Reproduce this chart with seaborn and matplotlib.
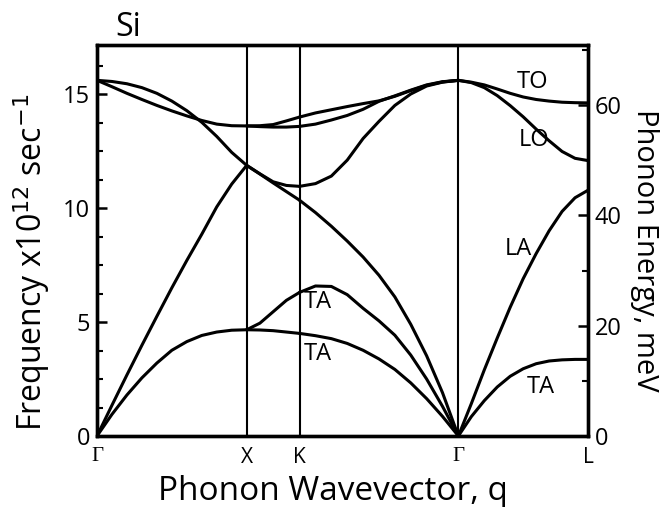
import numpy as np
import pandas as pd
import matplotlib
matplotlib.use("Agg")
import matplotlib.pyplot as plt
import seaborn as sns
from matplotlib.ticker import MultipleLocator, FixedLocator

# Path Γ–X–K–Γ–L, segment lengths in units of 2π/a
SEGMENT_LENGTHS = [1.0, np.sqrt(2) / 4, 3 * np.sqrt(2) / 4, np.sqrt(3) / 2]
POINT_LABELS = ["Γ", "X", "K", "Γ", "L"]
THZ_TO_MEV = 4.1357

# Γ → X  (t = fraction of the segment, frequencies in 10^12 s^-1)
gx_t = [0, .1, .2, .3, .4, .5, .6, .7, .8, .9, 1]
gx_ta = [0, 0.95, 1.8, 2.55, 3.2, 3.76, 4.14, 4.41, 4.56, 4.64, 4.66]
gx_la = [0, 1.35, 2.68, 3.98, 5.25, 6.5, 7.7, 8.85, 10.05, 11.05, 11.87]
gx_to = [15.6, 15.32, 15.03, 14.76, 14.5, 14.26, 14.04, 13.84, 13.68, 13.61, 13.6]
gx_lo = [15.6, 15.55, 15.45, 15.28, 15.03, 14.69, 14.27, 13.76, 13.14, 12.44, 11.87]

# X → K
xk_t = [0, .25, .5, .75, 1]
xk_ta1 = [4.66, 4.95, 5.45, 5.95, 6.3]
xk_ta2 = [4.66, 4.65, 4.62, 4.56, 4.5]
xk_la = [11.87, 11.49, 11.1, 10.72, 10.34]
xk_lo = [11.87, 11.5, 11.15, 10.99, 10.95]
xk_to1 = [13.6, 13.61, 13.66, 13.82, 13.99]
xk_to2 = [13.6, 13.57, 13.55, 13.55, 13.58]

# K → Γ
kg_t = [0, .1, .2, .3, .4, .5, .6, .7, .8, .9, 1]
kg_ta1 = [6.3, 6.58, 6.56, 6.2, 5.6, 5.05, 4.42, 3.55, 2.5, 1.3, 0]
kg_ta2 = [4.5, 4.4, 4.27, 4.06, 3.76, 3.38, 2.92, 2.33, 1.64, 0.86, 0]
kg_la = [10.34, 9.8, 9.2, 8.55, 7.85, 7.05, 6.1, 4.9, 3.52, 1.9, 0]
kg_lo = [10.95, 11.07, 11.4, 12.1, 13.05, 13.8, 14.5, 15.0, 15.35, 15.52, 15.6]
kg_to1 = [13.99, 14.17, 14.31, 14.45, 14.58, 14.7, 14.9, 15.15, 15.38, 15.53, 15.6]
kg_to2 = [13.58, 13.68, 13.86, 14.06, 14.33, 14.68, 14.92, 15.17, 15.4, 15.54, 15.6]

# Γ → L
gl_t = [0, .1, .2, .3, .4, .5, .6, .7, .8, .9, 1]
gl_ta = [0, 0.85, 1.55, 2.15, 2.62, 2.95, 3.17, 3.29, 3.34, 3.36, 3.36]
gl_la = [0, 1.42, 2.9, 4.3, 5.65, 6.9, 8.0, 9.0, 9.85, 10.45, 10.78]
gl_lo = [15.6, 15.5, 15.28, 14.93, 14.49, 14.0, 13.46, 12.95, 12.48, 12.18, 12.08]
gl_to = [15.6, 15.52, 15.4, 15.22, 15.03, 14.87, 14.76, 14.69, 14.64, 14.62, 14.61]

# Branch labels: (text, q, frequency)
label_text = ["TO", "LO", "LA", "TA", "TA", "TA"]
label_q = [2.913, 2.919, 2.813, 2.966, 1.475, 1.475]
label_f = [15.53, 12.98, 8.2, 2.15, 5.88, 3.6]

sym_q = np.concatenate([[0], np.cumsum(SEGMENT_LENGTHS)])

segments = [
    (0, gx_t, {"TA": gx_ta, "LA": gx_la, "TO": gx_to, "LO": gx_lo}),
    (1, xk_t, {"TA1": xk_ta1, "TA2": xk_ta2, "LA": xk_la, "LO": xk_lo,
               "TO1": xk_to1, "TO2": xk_to2}),
    (2, kg_t, {"TA1": kg_ta1, "TA2": kg_ta2, "LA": kg_la, "LO": kg_lo,
               "TO1": kg_to1, "TO2": kg_to2}),
    (3, gl_t, {"TA": gl_ta, "LA": gl_la, "LO": gl_lo, "TO": gl_to}),
]

frames = []
for seg, t, branches in segments:
    q = sym_q[seg] + np.asarray(t) * SEGMENT_LENGTHS[seg]
    for name, f in branches.items():
        frames.append(pd.DataFrame({"q": q, "freq": f, "branch": f"{seg}-{name}"}))
df = pd.concat(frames, ignore_index=True)

sns.set_style("ticks")
plt.rcParams["font.family"] = ["Open Sans", "DejaVu Sans"]
for key in ["text.color", "axes.labelcolor", "xtick.color", "ytick.color",
            "axes.edgecolor"]:
    plt.rcParams[key] = "black"

fig = plt.figure(figsize=(6.66, 5.07), dpi=100)
ax = fig.add_axes([97 / 666, 1 - 436 / 507, 491 / 666, 391 / 507])

sns.lineplot(data=df, x="q", y="freq", units="branch", estimator=None,
             sort=False, color="black", linewidth=2.2, legend=False, ax=ax,
             solid_capstyle="round", solid_joinstyle="round")

ymax = 17.15
ax.set_xlim(0, sym_q[-1])
ax.set_ylim(0, ymax)

for q in sym_q[1:-1]:
    ax.axvline(q, color="black", linewidth=1.5, zorder=1)

for s in ax.spines.values():
    s.set_visible(True)
    s.set_linewidth(2.4)

ax.xaxis.set_major_locator(FixedLocator(sym_q))
ax.set_xticklabels(POINT_LABELS)
for lab in ax.get_xticklabels():
    if lab.get_text() == "Γ":
        lab.set_family(["Liberation Serif", "DejaVu Serif"])
        lab.set_fontsize(17)
ax.tick_params(axis="x", length=0, pad=8, labelsize=15)

ax.yaxis.set_major_locator(MultipleLocator(5))
ax.yaxis.set_minor_locator(MultipleLocator(1.25))
ax.tick_params(axis="y", which="major", direction="in", length=7, width=1.8,
               labelsize=17, pad=5)
ax.tick_params(axis="y", which="minor", direction="in", length=4, width=1.5)

ax.set_xlabel("Phonon Wavevector, q", fontsize=24)
ax.xaxis.set_label_coords(0.48, -0.1)
ax.set_ylabel(r"Frequency x10$^{12}$ sec$^{-1}$", fontsize=23)
ax.yaxis.set_label_coords(-0.092, 0.445)

ax2 = ax.twinx()
ax2.set_ylim(0, ymax * THZ_TO_MEV)
ax2.yaxis.set_major_locator(MultipleLocator(20))
ax2.yaxis.set_minor_locator(MultipleLocator(10))
ax2.tick_params(axis="y", which="major", direction="in", length=7, width=1.8,
                labelsize=17, pad=5)
ax2.tick_params(axis="y", which="minor", direction="in", length=4, width=1.5)
for s in ax2.spines.values():
    s.set_linewidth(2.4)
ax2.set_ylabel("Phonon Energy, meV", fontsize=21, rotation=270, va="bottom")
ax2.yaxis.set_label_coords(1.085, 0.476)

for txt, q, f in zip(label_text, label_q, label_f):
    ax.text(q, f, txt, fontsize=17, ha="center", va="center")

fig.text(115 / 666, 1 - 36 / 507, "Si", fontsize=23, ha="left", va="baseline")

fig.savefig("out.png", dpi=100)
